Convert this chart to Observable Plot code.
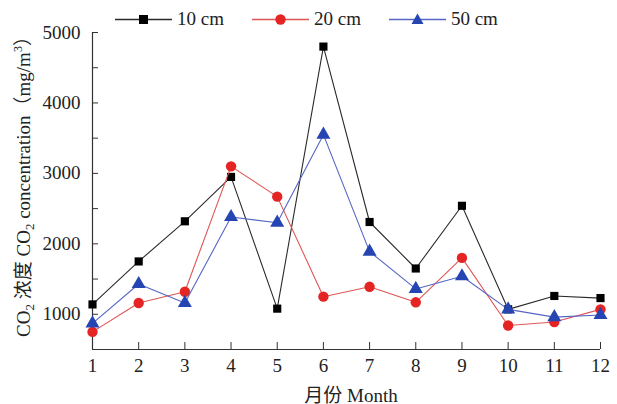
<!DOCTYPE html>
<html>
<head>
<meta charset="utf-8">
<script src="https://cdn.jsdelivr.net/npm/d3@7"></script>
<script src="https://cdn.jsdelivr.net/npm/@observablehq/plot@0.6"></script>
<style>
  html, body { margin: 0; padding: 0; background: #fff; }
  #wrap { position: relative; width: 617px; height: 404px; overflow: hidden; }
  #legend { position: absolute; left: 115px; top: 8px; display: flex; gap: 28px; align-items: center;
    font-family: "Liberation Serif", "Noto Sans CJK SC", serif; font-size: 19px; color: #222; }
  .item { display: flex; align-items: center; gap: 5px; }
  #ytitle { position: absolute; left: 23px; top: 182px; transform: translate(-50%, -50%) rotate(-90deg);
    white-space: nowrap; font-family: "Liberation Serif", "Noto Sans CJK SC", serif; font-size: 19px; color: #222; }
  #xtitle { position: absolute; left: 351px; top: 393px; transform: translate(-50%, -50%);
    white-space: nowrap; font-family: "Liberation Serif", "Noto Sans CJK SC", serif; font-size: 19px; color: #222; }
  #chart { position: absolute; left: 0; top: 0; }
</style>
</head>
<body>
<div id="wrap">
  <div id="chart"></div>
  <div id="legend"></div>
  <div id="ytitle">CO<sub style="font-size:13px">2</sub> 浓度 CO<sub style="font-size:13px">2</sub> concentration（mg/m<sup style="font-size:12px">3</sup>）</div>
  <div id="xtitle">月份 Month</div>
</div>
<script>
const months = [1,2,3,4,5,6,7,8,9,10,11,12];
const seriesNames = ["10 cm", "20 cm", "50 cm"];
const values10 = [1140, 1750, 2320, 2950, 1080, 4800, 2310, 1650, 2540, 1070, 1260, 1230];
const values20 = [750, 1160, 1320, 3100, 2670, 1250, 1390, 1170, 1800, 840, 890, 1070];
const values50 = [870, 1430, 1160, 2380, 2300, 3550, 1890, 1360, 1540, 1070, 960, 990];
const yTicks = [1000, 2000, 3000, 4000, 5000];
const yMinorTicks = [1000, 1500, 2000, 2500, 3000, 3500, 4000, 4500, 5000];
const yDomain = [500, 5000];

const W = 617, H = 404, ML = 92, MR = 17, MT = 32, MB = 55;
const frameW = W - ML - MR, frameH = H - MT - MB;

const styles = [
  {line: "#2a2a2a", fill: "#000000", symbol: "square", r: 4.6},
  {line: "#e05555", fill: "#e52424", symbol: "circle", r: 5.2},
  {line: "#5566c4", fill: "#2545b2", symbol: "triangle", r: 5.2}
];
const allValues = [values10, values20, values50];
const data = allValues.map((vals, s) => months.map((m, i) => ({month: m, value: vals[i], series: seriesNames[s]})));

const marks = [
  Plot.ruleX([months[0]], {stroke: "#333", strokeWidth: 1.2}),
  Plot.ruleY([yDomain[0]], {stroke: "#333", strokeWidth: 1.2}),
  // inward ticks
  Plot.tickX(months, {x: d => d, stroke: "#333", insetTop: frameH - 7}),
  Plot.tickY(yMinorTicks, {y: d => d, stroke: "#333", insetRight: frameW - 6}),
  Plot.axisX(months, {tickSize: 0, tickPadding: 9, fontSize: 19, fontFamily: "Liberation Serif", fill: "#222", label: null, tickFormat: d => String(d)}),
  Plot.axisY(yTicks, {tickSize: 0, tickPadding: 12, fontSize: 19, fontFamily: "Liberation Serif", fill: "#222", label: null, tickFormat: d => String(d)})
];
data.forEach((d, s) => {
  marks.push(Plot.line(d, {x: "month", y: "value", stroke: styles[s].line, strokeWidth: 1.1}));
  marks.push(Plot.dot(d, {x: "month", y: "value", symbol: styles[s].symbol, r: styles[s].r, fill: styles[s].fill, stroke: "none"}));
});

const chart = Plot.plot({
  width: W,
  height: H,
  marginLeft: ML,
  marginRight: MR,
  marginTop: MT,
  marginBottom: MB,
  style: {background: "transparent", fontFamily: "Liberation Serif"},
  x: {type: "linear", domain: [months[0], months[months.length - 1]], label: null, axis: null},
  y: {domain: yDomain, label: null, axis: null},
  marks
});
document.getElementById("chart").appendChild(chart);

// Legend
const legend = document.getElementById("legend");
const symbolPaths = {
  square: '<rect x="24" y="6" width="9" height="9" fill="FILL"/>',
  circle: '<circle cx="28.5" cy="10.5" r="5.2" fill="FILL"/>',
  triangle: '<path d="M28.5,4.5 L34.5,15 L22.5,15 Z" fill="FILL"/>'
};
seriesNames.forEach((name, s) => {
  const st = styles[s];
  const item = document.createElement("div");
  item.className = "item";
  item.innerHTML = `<svg width="57" height="21"><line x1="0" x2="57" y1="10.5" y2="10.5" stroke="${st.line}" stroke-width="1.3"/>${symbolPaths[st.symbol].replace("FILL", st.fill)}</svg><span>${name}</span>`;
  legend.appendChild(item);
});
</script>
</body>
</html>
